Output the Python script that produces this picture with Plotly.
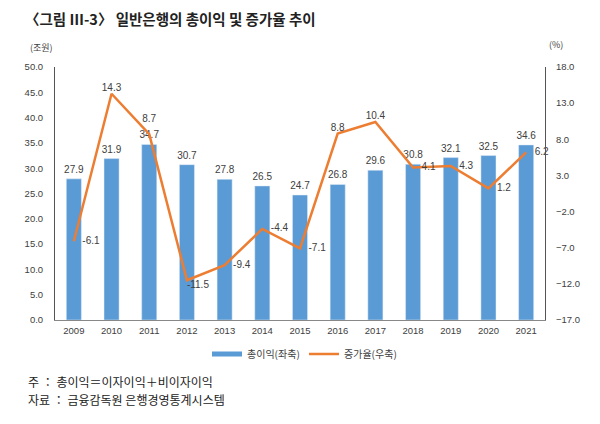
import plotly.graph_objects as go

years = ["2009", "2010", "2011", "2012", "2013", "2014", "2015",
         "2016", "2017", "2018", "2019", "2020", "2021"]
profit = [27.9, 31.9, 34.7, 30.7, 27.8, 26.5, 24.7, 26.8, 29.6, 30.8, 32.1, 32.5, 34.6]
growth = [-6.1, 14.3, 8.7, -11.5, -9.4, -4.4, -7.1, 8.8, 10.4, 4.1, 4.3, 1.2, 6.2]
growth_pos = ["middle right", "top center", "top center", "bottom right",
              "middle right", "middle right", "middle right", "top center",
              "top center", "middle right", "middle right", "middle right", "middle right"]
# invisible marker sizes used only to space each label from its point
label_gap = [12, 0, 14, 0, 12, 12, 12, 0, 0, 12, 12, 12, 12]

NUM = "Liberation Sans, Arial, sans-serif"
KR = "Noto Sans CJK KR, sans-serif"
TXT = "#404040"
BLUE = "#5B9BD5"
ORANGE = "#ED7D31"

L, R, T, B = 55, 55, 67, 104
W, H = 600, 424
ph = H - T - B
pw = W - L - R

def px(x):
    return (x - L) / pw

def py(y):
    return (H - B - y) / ph

fig = go.Figure()
fig.add_trace(go.Bar(
    x=years, y=profit, name="총이익(좌축)", showlegend=False,
    marker=dict(color=BLUE), width=0.4,
))
# legend entry for bars (wide rectangle like the reference)
fig.add_trace(go.Scatter(
    x=[None], y=[None], name="총이익(좌축)", mode="lines",
    line=dict(color=BLUE, width=5),
))
# bar value labels
fig.add_trace(go.Scatter(
    x=years, y=profit, mode="markers+text", showlegend=False, hoverinfo="skip",
    marker=dict(size=4, opacity=0, line=dict(width=0)),
    text=[f"{v:.1f}" for v in profit], textposition="top center",
    textfont=dict(family=NUM, size=10, color=TXT), cliponaxis=False,
))
# growth line (labels only; no visible markers)
fig.add_trace(go.Scatter(
    x=years, y=growth, name="증가율(우축)", yaxis="y2", showlegend=False,
    mode="lines+markers+text", line=dict(color=ORANGE, width=2.5),
    marker=dict(size=label_gap, opacity=0, line=dict(width=0)),
    text=[f"{v:.1f}" for v in growth], textposition=growth_pos,
    textfont=dict(family=NUM, size=10, color=TXT), cliponaxis=False,
))
# legend entry for the line
fig.add_trace(go.Scatter(
    x=[None], y=[None], name="증가율(우축)", mode="lines",
    line=dict(color=ORANGE, width=2.5),
))

fig.update_layout(
    width=W, height=H, margin=dict(l=L, r=R, t=T, b=B, autoexpand=False),
    paper_bgcolor="white", plot_bgcolor="white",
    showlegend=True,
    legend=dict(orientation="h", xref="container", yref="container",
                x=207 / W, y=1 - 354 / H, xanchor="left", yanchor="middle",
                font=dict(family=KR, size=10, color=TXT), itemwidth=30,
                traceorder="normal", entrywidth=52),
    title=dict(text="<b>〈그림 Ⅲ-3〉 일반은행의 총이익 및 증가율 추이</b>",
               xref="container", yref="container", x=25 / W, y=1 - 20 / H,
               xanchor="left", yanchor="middle",
               font=dict(family=KR, size=14.5, color="#222222")),
    xaxis=dict(range=[-0.5, 12.5], showline=True, linecolor="#888888", linewidth=1,
               ticks="", ticklabelstandoff=2,
               tickfont=dict(family=NUM, size=9.5, color=TXT)),
    yaxis=dict(range=[0, 50], dtick=5, tickformat=".1f", showgrid=False,
               showline=True, linecolor="#555555", linewidth=1, ticks="",
               zeroline=False, ticklabelstandoff=9,
               tickfont=dict(family=NUM, size=9.5, color=TXT)),
    yaxis2=dict(range=[-17, 18], tick0=-17, dtick=5, tickformat=".1f", showgrid=False,
                overlaying="y", side="right", showline=True, linecolor="#555555",
                linewidth=1, ticks="", zeroline=False, ticklabelstandoff=8,
                tickfont=dict(family=NUM, size=9.5, color=TXT)),
    bargap=0.6,
)

anns = [
    dict(text="(조원)", x=px(28), y=py(47), xanchor="left", yanchor="middle",
         font=dict(family=KR, size=9, color=TXT)),
    dict(text="(%)", x=px(547), y=py(44), xanchor="left", yanchor="middle",
         font=dict(family=KR, size=9, color=TXT)),
    dict(text="주 ： 총이익＝이자이익＋비이자이익", x=px(26), y=py(381),
         xanchor="left", yanchor="middle", font=dict(family=KR, size=12, color="#222222")),
    dict(text="자료 ： 금융감독원 은행경영통계시스템", x=px(26), y=py(399),
         xanchor="left", yanchor="middle", font=dict(family=KR, size=12, color="#222222")),
]
for a in anns:
    a.update(xref="paper", yref="paper", showarrow=False)
    fig.add_annotation(**a)

fig.write_html("out.html")
